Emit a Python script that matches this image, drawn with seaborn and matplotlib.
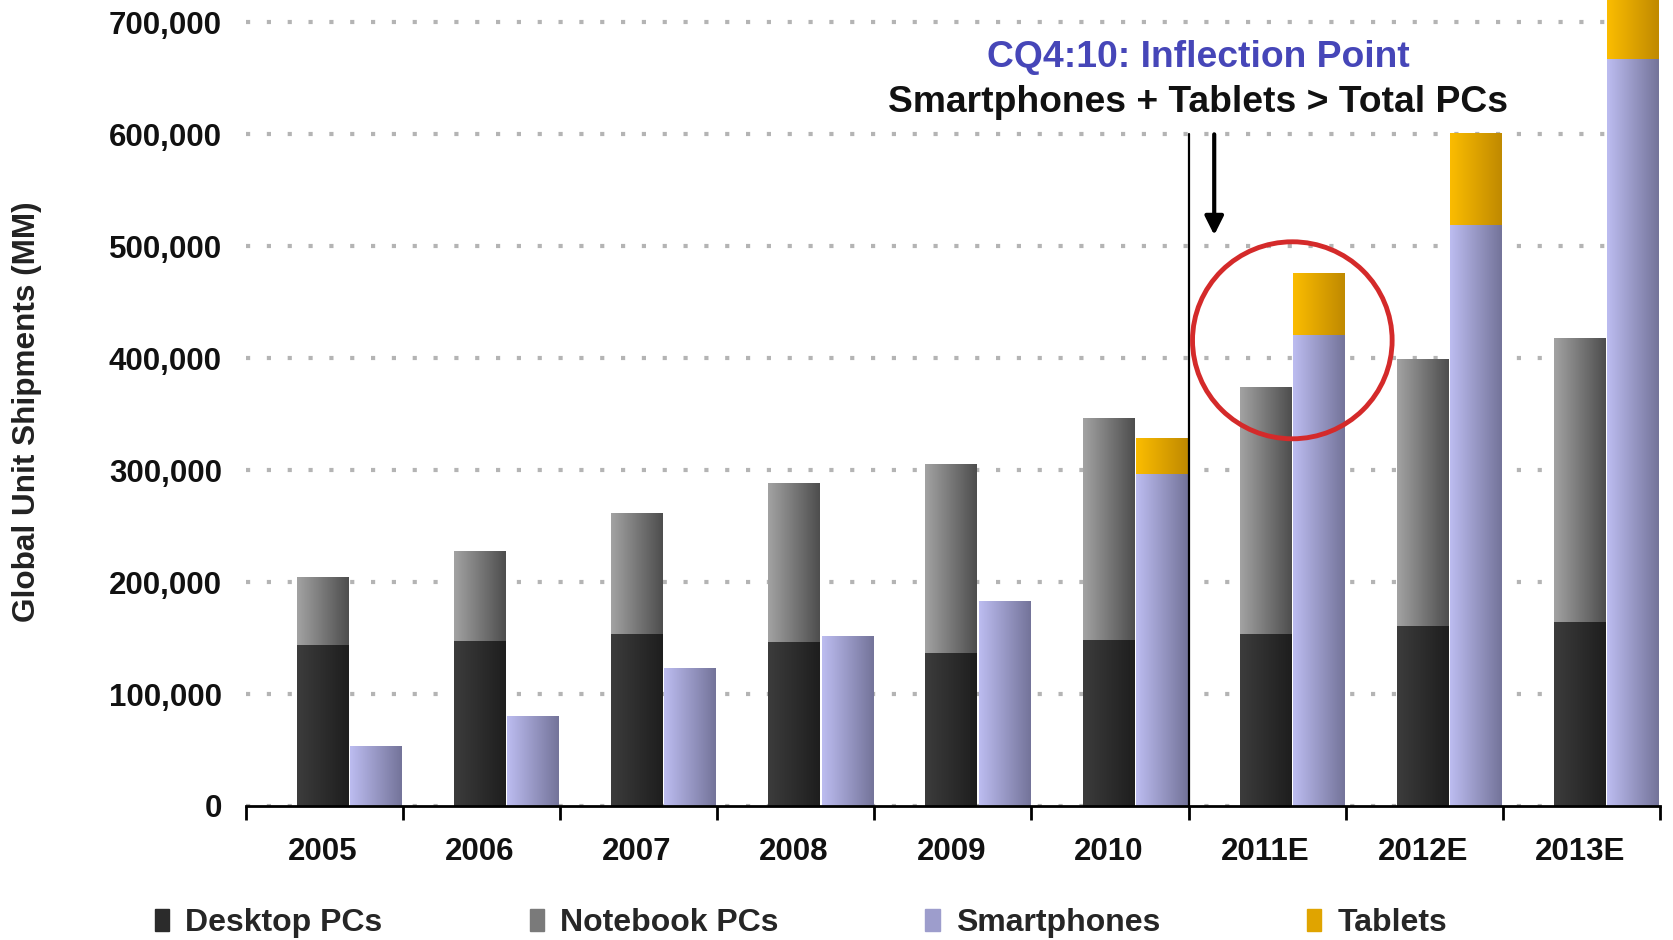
import numpy as np
import pandas as pd
import matplotlib
matplotlib.use('Agg')
import matplotlib.pyplot as plt
import seaborn as sns
from matplotlib.patches import Ellipse, Patch
from matplotlib.colors import LinearSegmentedColormap, to_hex

# data (thousands of units)
years = ['2005', '2006', '2007', '2008', '2009', '2010', '2011E', '2012E', '2013E']
desktop = [143000, 147000, 153000, 146000, 136000, 148000, 153000, 160000, 164000]
notebook = [61000, 80000, 108000, 142000, 169000, 198000, 221000, 239000, 254000]
smartphones = [53000, 80000, 123000, 151000, 183000, 296000, 420000, 519000, 667000]
tablets = [0, 0, 0, 0, 0, 32000, 56000, 82000, 110000]
series_names = ['Desktop PCs', 'Notebook PCs', 'Smartphones', 'Tablets']

# colours: flat colour + (left, right) gradient
c_desk, c_note, c_phone, c_tab = '#2b2b2b', '#7a7a7a', '#9d9dcc', '#e0a400'
grads = {
    c_desk: ('#3c3c3c', '#1e1e1e'),
    c_note: ('#a2a2a2', '#4e4e4e'),
    c_phone: ('#bcbcf0', '#74749a'),
    c_tab: ('#fbbc00', '#c08a00'),
}

sns.set_theme(style='white')
plt.rcParams['font.family'] = ['Liberation Sans', 'DejaVu Sans']

df = pd.DataFrame({
    'year': years * 2,
    'kind': ['pc'] * len(years) + ['mobile'] * len(years),
    'base': desktop + smartphones,
    'total': [d + n for d, n in zip(desktop, notebook)] + [s + t for s, t in zip(smartphones, tablets)],
})

fig = plt.figure(figsize=(16.74, 9.4), dpi=100)
ax = fig.add_axes([0.1467, 0.1426, 0.845, 0.8574])

sns.barplot(data=df, x='year', y='total', hue='kind', hue_order=['pc', 'mobile'],
            palette={'pc': c_note, 'mobile': c_tab}, width=0.68, gap=0.03,
            saturation=1, linewidth=0, errorbar=None, legend=False, ax=ax)
n1 = len(ax.patches)
sns.barplot(data=df, x='year', y='base', hue='kind', hue_order=['pc', 'mobile'],
            palette={'pc': c_desk, 'mobile': c_phone}, width=0.68, gap=0.03,
            saturation=1, linewidth=0, errorbar=None, legend=False, ax=ax)

# horizontal gradient on every bar
ramp = np.linspace(0, 1, 64).reshape(1, -1)
for i, p in enumerate(list(ax.patches)):
    h = p.get_height()
    if not h or np.isnan(h):
        continue
    key = to_hex(p.get_facecolor())
    if key not in grads:
        continue
    cmap = LinearSegmentedColormap.from_list('g', grads[key])
    x0, y0, w = p.get_x(), p.get_y(), p.get_width()
    ax.imshow(ramp, extent=(x0, x0 + w, y0, y0 + h), cmap=cmap, aspect='auto',
              interpolation='bilinear', zorder=1.1 if i < n1 else 1.2)

ax.set_xlim(-0.66, 8.34)
ax.set_ylim(0, 720000)
ax.set_xlabel('')
ax.set_ylabel('')

# axes styling
for s in ['top', 'right', 'left']:
    ax.spines[s].set_visible(False)
ax.spines['bottom'].set_color('black')
ax.spines['bottom'].set_linewidth(2)
ax.spines['bottom'].set_zorder(3)

ax.set_xticks(np.arange(len(years)) - 0.17, labels=years)
ax.set_xticks(np.arange(-1, len(years)) + 0.34, minor=True)
ax.tick_params(axis='x', which='major', length=0, pad=22, labelsize=22.5, labelcolor='#111111')
ax.tick_params(axis='x', which='minor', bottom=True, length=10, width=2, color='black', direction='out')
for t in ax.get_xticklabels():
    t.set_fontweight('bold')

ax.set_yticks(range(0, 700001, 100000))
ax.set_yticklabels(['{:,}'.format(v) for v in range(0, 700001, 100000)])
ax.tick_params(axis='y', length=0, pad=17, labelsize=22.5, labelcolor='#111111')
for t in ax.get_yticklabels():
    t.set_fontweight('bold')

ax.set_axisbelow(True)
ax.yaxis.grid(True, linestyle=(0, (1, 4)), linewidth=3, color='#b4b4b4')
ax.xaxis.grid(False)

# annotations
ax.plot([5.34, 5.34], [0, 600000], color='black', lw=1.6, zorder=4)
ax.annotate('', xy=(5.503, 510000), xytext=(5.503, 600000),
            arrowprops=dict(arrowstyle='-|>', color='black', lw=3, mutation_scale=28,
                            shrinkA=0, shrinkB=0), zorder=4)
ax.add_patch(Ellipse((6.0, 416000), width=1.27, height=176000, fill=False,
                     edgecolor='#d42a2a', lw=3.5, zorder=5))
ax.text(5.40, 669000, 'CQ4:10: Inflection Point', ha='center', va='center',
        color='#4646b8', fontsize=26.8, fontweight='bold')
ax.text(5.40, 628000, 'Smartphones + Tablets > Total PCs', ha='center', va='center',
        color='#111111', fontsize=26.8, fontweight='bold')

fig.text(27 / 1674, 1 - 412 / 940, 'Global Unit Shipments (MM)', rotation=90,
         ha='center', va='center', fontsize=22.7, fontweight='bold', color='#222222')

handles = [Patch(color=c) for c in [c_desk, c_note, c_phone, c_tab]]
fig.legend(handles, series_names, loc='center', bbox_to_anchor=(0.4785, 0.018), ncol=4,
           frameon=False, prop={'weight': 'bold', 'size': 23}, handlelength=0.45,
           handleheight=0.7, handletextpad=0.5, columnspacing=4.6)

fig.savefig('out.png', dpi=100)
